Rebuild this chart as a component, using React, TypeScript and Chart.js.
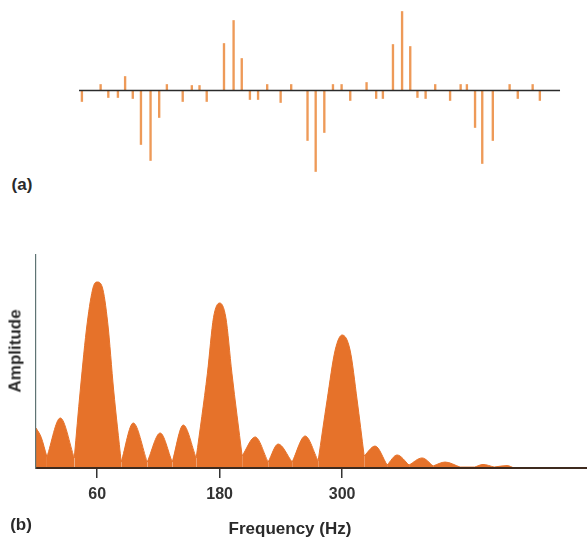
import React, { useEffect, useRef } from 'react';
import { Chart, registerables } from 'chart.js';

Chart.register(...registerables);

// ---------- panel (a): sampled signal (stems) ----------
const stemTime = [0.4, 4.3, 5.9, 7.9, 9.4, 11.0, 12.7, 14.7, 16.5, 18.1, 21.4, 23.3, 24.9, 26.4, 30.0, 32.0, 33.7, 35.4, 37.1, 39.0, 41.8, 44.0, 47.4, 49.1, 50.9, 52.7, 54.5, 56.3, 59.7, 61.7, 63.1, 65.2, 67.1, 68.8, 70.3, 72.0, 74.0, 77.1, 79.3, 80.6, 82.3, 83.8, 86.0, 89.5, 91.2, 94.3, 95.8];
const stemValue = [-11, 6, -7, -7, 14, -8, -54, -70, -27, 6, -11, 5, 5, -11, 47, 70, 32, -9, -9, 6, -12, 6, -50, -81, -42, 6, 6, -10, 8, -8, -8, 46, 79, 44, -7, -8, 6, -10, 6, 6, -37, -73, -50, 6, -8, 6, -10];
const baselineTime = [-0.2, 100];

// ---------- panel (b): amplitude spectrum ----------
const specFreq = [0, 5.1, 10.7, 23.8, 37.5, 43.4, 50.2, 56.1, 60, 64.9, 70.3, 76.1, 83.5, 95.3, 109, 121.7, 133.5, 144.3, 157, 168, 174, 180, 186, 192, 202, 214.8, 227.5, 237.3, 251, 263.8, 276.5, 285.3, 293.2, 300, 307.8, 314.7, 321.6, 332.3, 344.1, 353.9, 365.6, 378.4, 389.2, 400.9, 415.6, 430, 438.1, 449, 461.7, 468.5, 540];
const specAmp = [21.5, 16.5, 5.9, 26.9, 5.4, 41.9, 78, 97.3, 100, 97.3, 78, 41.9, 3.2, 24.2, 3.2, 18.8, 3.2, 23.1, 5.4, 51, 81, 88.7, 81, 51, 6.5, 16.7, 3.2, 12.9, 3.2, 17.2, 3.8, 36.6, 63.4, 71.5, 63.4, 36.6, 6.5, 11.8, 1.6, 7, 1.6, 5.4, 1.1, 3.2, 0.5, 0.5, 1.9, 0.5, 1.3, 0, 0];
const freqTicks = [60, 180, 300];

const FONT = 'Liberation Sans, Arial, Helvetica, sans-serif';
const ORANGE = '#e6722a';
const STEM = '#ee9a58';

function splitLobes(f: number[], a: number[]) {
  const lobes: { x: number; y: number }[][] = [];
  let start = 0;
  for (let i = 1; i < f.length - 1; i++) {
    if (a[i] <= a[i - 1] && a[i] <= a[i + 1]) {
      lobes.push(f.slice(start, i + 1).map((x, k) => ({ x, y: a[start + k] })));
      start = i;
    }
  }
  lobes.push(f.slice(start).map((x, k) => ({ x, y: a[start + k] })));
  return lobes;
}

function StemChart() {
  const ref = useRef<HTMLCanvasElement>(null);
  useEffect(() => {
    if (!ref.current) return;
    const chart = new Chart(ref.current, {
      type: 'bar',
      data: {
        datasets: [
          {
            type: 'line',
            data: baselineTime.map((t) => ({ x: t, y: 0 })),
            borderColor: '#2b2b2b',
            borderWidth: 1.6,
            pointRadius: 0,
            order: 0,
          } as any,
          {
            type: 'bar',
            data: stemTime.map((t, i) => ({ x: t, y: stemValue[i] })),
            backgroundColor: STEM,
            borderWidth: 0,
            barThickness: 1.7,
            order: 1,
          } as any,
        ],
      },
      options: {
        animation: false,
        responsive: false,
        layout: { padding: 0 },
        plugins: { legend: { display: false }, tooltip: { enabled: false } },
        scales: {
          x: { type: 'linear', min: -0.83, max: 100.83, offset: false, display: false },
          y: { type: 'linear', min: -89.5, max: 90.5, display: false },
        },
      },
    });
    return () => chart.destroy();
  }, []);
  return (
    <canvas
      ref={ref}
      width={488}
      height={180}
      style={{ position: 'absolute', left: 76, top: 0, width: 488, height: 180 }}
    />
  );
}

function SpectrumChart() {
  const ref = useRef<HTMLCanvasElement>(null);
  useEffect(() => {
    if (!ref.current) return;
    const lobes = splitLobes(specFreq, specAmp);
    const chart = new Chart(ref.current, {
      type: 'line',
      data: {
        datasets: lobes.map((pts) => ({
          data: pts,
          fill: 'origin',
          backgroundColor: ORANGE,
          borderColor: ORANGE,
          borderWidth: 1,
          pointRadius: 0,
          cubicInterpolationMode: 'monotone',
        })) as any,
      },
      options: {
        animation: false,
        responsive: false,
        layout: { padding: { top: 15, left: 0, right: 0, bottom: 0 } },
        plugins: { legend: { display: false }, tooltip: { enabled: false } },
        scales: {
          x: {
            type: 'linear',
            min: 0,
            max: 540,
            afterFit: (s: any) => {
              s.height = 82;
            },
            afterBuildTicks: (s: any) => {
              s.ticks = freqTicks.map((v) => ({ value: v }));
            },
            grid: {
              drawOnChartArea: false,
              drawTicks: true,
              tickLength: 10,
              color: '#333333',
              lineWidth: 1.5,
            },
            border: { display: true, color: '#3d2a1e', width: 2, z: 1 },
            ticks: {
              color: '#333333',
              padding: 7,
              font: { family: FONT, size: 16, weight: 'bold' },
              maxRotation: 0,
              autoSkip: false,
              callback: (v: any) => String(v),
            },
          },
          y: {
            type: 'linear',
            min: 0,
            max: 114.5,
            afterFit: (s: any) => {
              s.width = 36;
            },
            grid: { display: false },
            ticks: { display: false },
            border: { display: true, color: '#5f7474', width: 1.2, z: 1 },
          },
        },
      },
    });
    return () => chart.destroy();
  }, []);
  return (
    <canvas
      ref={ref}
      width={587}
      height={310}
      style={{ position: 'absolute', left: 0, top: 240, width: 587, height: 310 }}
    />
  );
}

const labelStyle: React.CSSProperties = {
  position: 'absolute',
  fontFamily: FONT,
  fontWeight: 'bold',
  fontSize: 17,
  color: '#2a2a2a',
  whiteSpace: 'nowrap',
  lineHeight: 1,
  transform: 'translate(-50%, -50%)',
};

export default function App() {
  return (
    <div
      style={{
        position: 'absolute',
        left: 0,
        top: 0,
        width: 587,
        height: 550,
        background: '#ffffff',
        overflow: 'hidden',
      }}
    >
      <StemChart />
      <SpectrumChart />
      <div style={{ ...labelStyle, left: 22, top: 184 }}>(a)</div>
      <div style={{ ...labelStyle, left: 21, top: 524 }}>(b)</div>
      <div style={{ ...labelStyle, left: 290, top: 528 }}>Frequency (Hz)</div>
      <div style={{ ...labelStyle, left: 15, top: 351, transform: 'translate(-50%, -50%) rotate(-90deg)' }}>
        Amplitude
      </div>
    </div>
  );
}
